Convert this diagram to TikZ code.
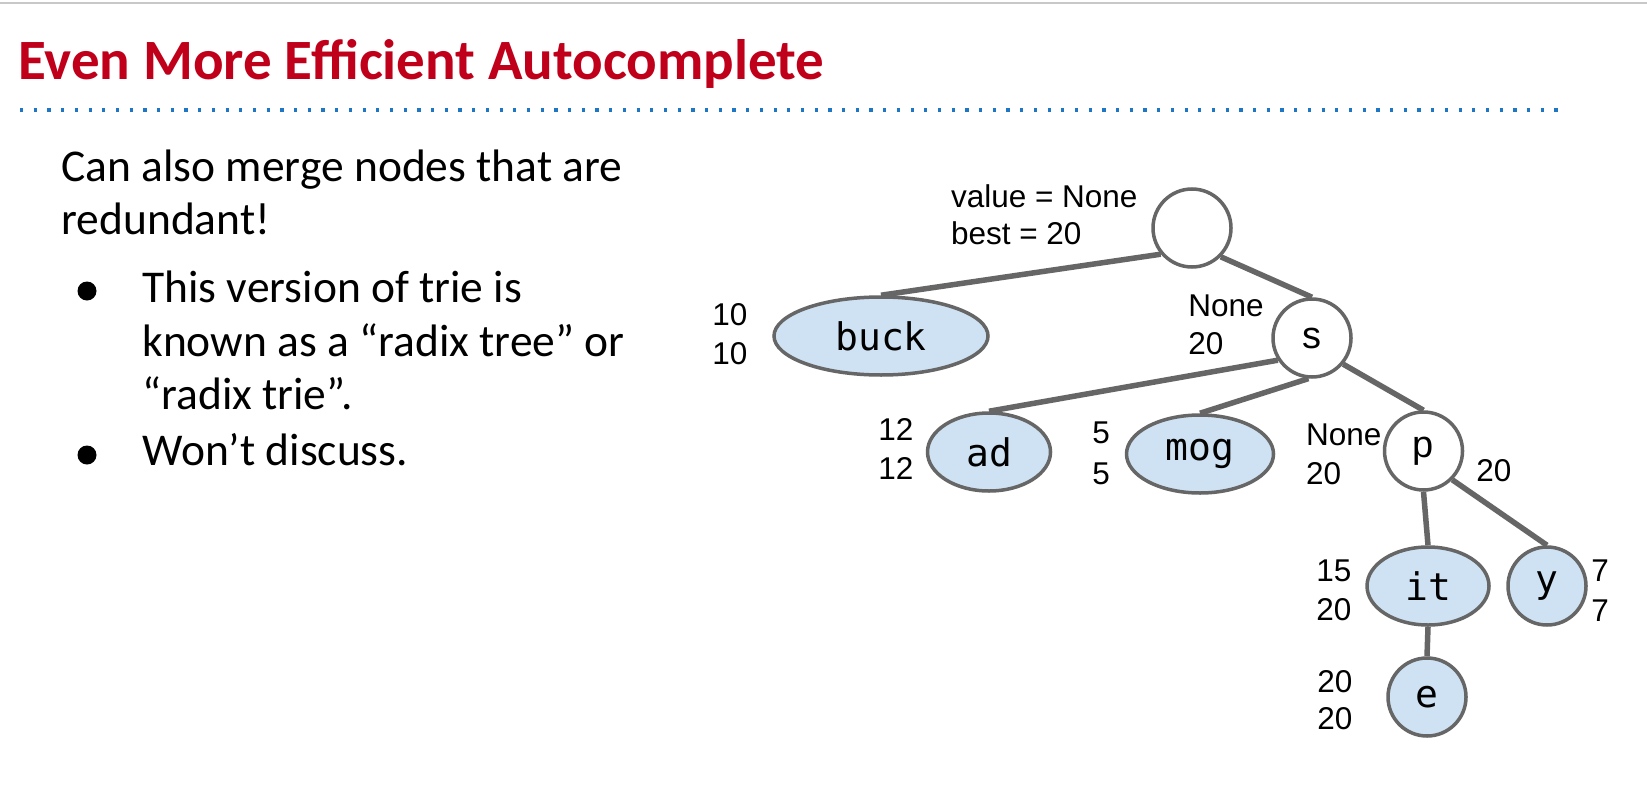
\documentclass[tikz,border=0pt]{standalone}
\usepackage{fontspec}
\setmainfont{Carlito}
\newfontfamily\arialf{Liberation Sans}
\newfontfamily\monof{DejaVu Sans Mono}
\usetikzlibrary{shapes.geometric}
\definecolor{titlered}{RGB}{192,0,26}
\definecolor{dotblue}{RGB}{31,119,196}
\definecolor{edgegray}{RGB}{102,102,102}
\definecolor{nodeblue}{RGB}{207,226,243}
\definecolor{topgray}{RGB}{200,200,200}
\begin{document}
\begin{tikzpicture}[x=0.5pt,y=-0.5pt,
  tnode/.style={ellipse, draw=edgegray, line width=1.75pt, inner sep=0pt, font=\monof\fontsize{19}{22}\selectfont},
  leaf/.style={tnode, fill=nodeblue},
  inner/.style={tnode, fill=white},
  lbl/.style={anchor=base west, inner sep=0pt, font=\arialf\fontsize{15.75}{19}\selectfont},
  body/.style={anchor=base west, inner sep=0pt, font=\fontsize{22.75}{27}\selectfont},
  edge/.style={draw=edgegray, line width=2.75pt},
  bullet/.style={circle, fill=black, inner sep=0pt, minimum size=9.5pt}]
\useasboundingbox (0,0) rectangle (1647,808);
\fill[white] (0,0) rectangle (1647,808);
% top rule and title
\coordinate (tl) at (0,3);
\coordinate (tr) at (1647,3);
\draw[topgray, line width=1pt] (tl) -- (tr);
\node[anchor=base west, inner sep=0pt, text=titlered, font=\bfseries\fontsize{28.5}{34}\selectfont] (title) at (18,80) {Even More Efficient Autocomplete};
\coordinate (dl) at (20,110);
\coordinate (dr) at (1560,110);
\draw[dotblue, line width=1.6pt, dash pattern=on 1.6pt off 5.25pt] (dl) -- (dr);
% body text
\node[body] (l1) at (61,181) {Can also merge nodes that are};
\node[body] (l2) at (61,234) {redundant!};
\node[bullet] (b1) at (87,291) {};
\node[body] (l3) at (142,302) {This version of trie is};
\node[body] (l4) at (142,356) {known as a “radix tree” or};
\node[body] (l5) at (142,409) {“radix trie”.};
\node[bullet] (b2) at (87,455) {};
\node[body] (l6) at (142,465) {Won’t discuss.};
% tree nodes
\node[inner, minimum width=39pt, minimum height=39pt] (root) at (1192,228) {};
\node[leaf, minimum width=107pt, minimum height=39pt] (buck) at (881,336) {buck};
\node[inner, minimum width=39pt, minimum height=39pt, font=\arialf\fontsize{19}{22}\selectfont] (s) at (1312,338) {s};
\node[leaf, minimum width=61.5pt, minimum height=39pt] (ad) at (989,452) {ad};
\node[leaf, minimum width=73.5pt, minimum height=39pt] (mog) at (1200,454) {mog};
\node[inner, minimum width=39pt, minimum height=39pt, font=\arialf\fontsize{19}{22}\selectfont] (p) at (1423.5,451) {p};
\node[leaf, minimum width=61pt, minimum height=39pt] (it) at (1428,586) {it};
\node[leaf, minimum width=39pt, minimum height=39pt] (y) at (1547,586) {y};
\node[leaf, minimum width=39pt, minimum height=39pt] (e) at (1427,697) {e};
% edges
\draw[edge] (root.220) -- (buck.north);
\draw[edge] (root.-45) -- (s.north);
\draw[edge] (s.213) -- (ad.north);
\draw[edge] (s.-95) -- (mog.north);
\draw[edge] (s.-40) -- (p.north);
\draw[edge] (p.south) -- (it.north);
\draw[edge] (p.-45) -- (y.north);
\draw[edge] (it.south) -- (e.north);
% labels
\node[lbl] (rv) at (950.6,207) {value = None};
\node[lbl] (rb) at (950.6,244) {best = 20};
\node[lbl] (buckv) at (712,325) {10};
\node[lbl] (buckb) at (712,364) {10};
\node[lbl] (sv) at (1188,316) {None};
\node[lbl] (sb) at (1188,354) {20};
\node[lbl] (adv) at (878,440) {12};
\node[lbl] (adb) at (878,479) {12};
\node[lbl] (mogv) at (1092,443) {5};
\node[lbl] (mogb) at (1092,484) {5};
\node[lbl] (pv) at (1305.6,445) {None};
\node[lbl] (pb) at (1305.6,484) {20};
\node[lbl] (pr) at (1476,481) {20};
\node[lbl] (itv) at (1316,581) {15};
\node[lbl] (itb) at (1316,620) {20};
\node[lbl] (yv) at (1591,581) {7};
\node[lbl] (yb) at (1591,621) {7};
\node[lbl] (ev) at (1317,692) {20};
\node[lbl] (eb) at (1317,729) {20};
\end{tikzpicture}
\end{document}
